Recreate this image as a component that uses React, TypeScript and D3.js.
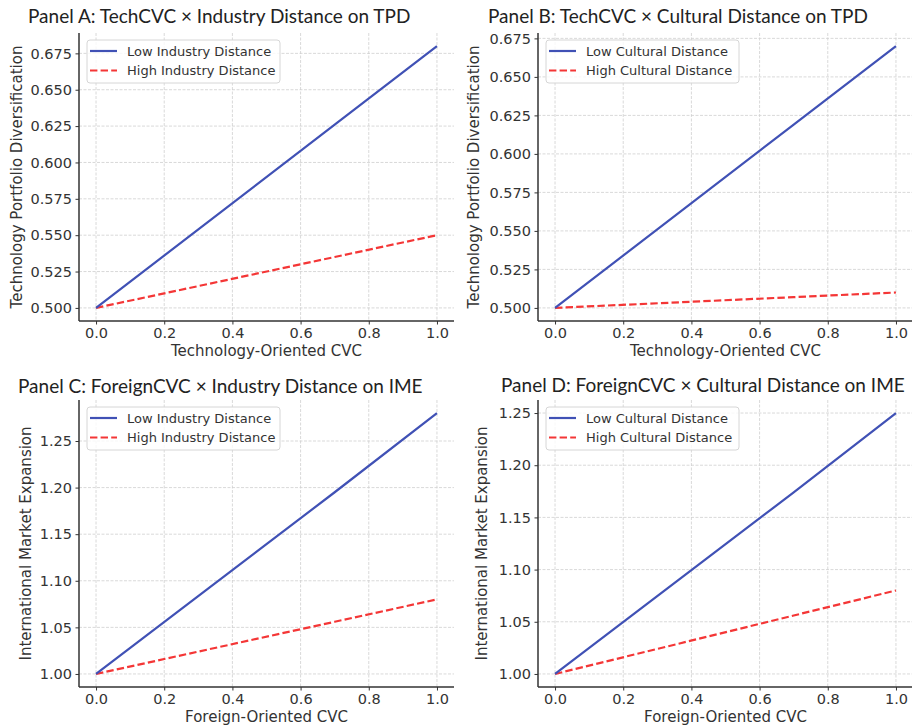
import React, { useRef, useEffect } from "react";
import * as d3 from "d3";

// ---- data ----
const cvcLevels = [0, 0.7, 1.0];
const xTicks = [0, 0.2, 0.4, 0.6, 0.8, 1.0];

const techIndustryLow = [0.5, 0.626, 0.68];
const techIndustryHigh = [0.5, 0.535, 0.55];
const techCulturalLow = [0.5, 0.619, 0.67];
const techCulturalHigh = [0.5, 0.507, 0.51];
const foreignIndustryLow = [1.0, 1.195, 1.28];
const foreignIndustryHigh = [1.0, 1.056, 1.08];
const foreignCulturalLow = [1.0, 1.174, 1.25];
const foreignCulturalHigh = [1.0, 1.056, 1.08];

const tpdTicks = [0.5, 0.525, 0.55, 0.575, 0.6, 0.625, 0.65, 0.675];
const imeTicks = [1.0, 1.05, 1.1, 1.15, 1.2, 1.25];

const panels = [
  {
    title: "Panel A: TechCVC × Industry Distance on TPD",
    xLabel: "Technology-Oriented CVC",
    yLabel: "Technology Portfolio Diversification",
    legend: ["Low Industry Distance", "High Industry Distance"],
    low: techIndustryLow,
    high: techIndustryHigh,
    yTicks: tpdTicks,
    fmt: ".3f",
    box: { left: 79, top: 33, bottom: 321 },
    titlePos: [28, 23],
    yLabelX: 22,
  },
  {
    title: "Panel B: TechCVC × Cultural Distance on TPD",
    xLabel: "Technology-Oriented CVC",
    yLabel: "Technology Portfolio Diversification",
    legend: ["Low Cultural Distance", "High Cultural Distance"],
    low: techCulturalLow,
    high: techCulturalHigh,
    yTicks: tpdTicks,
    fmt: ".3f",
    box: { left: 538, top: 33, bottom: 321 },
    titlePos: [488, 23],
    yLabelX: 479,
  },
  {
    title: "Panel C: ForeignCVC × Industry Distance on IME",
    xLabel: "Foreign-Oriented CVC",
    yLabel: "International Market Expansion",
    legend: ["Low Industry Distance", "High Industry Distance"],
    low: foreignIndustryLow,
    high: foreignIndustryHigh,
    yTicks: imeTicks,
    fmt: ".2f",
    box: { left: 79, top: 400, bottom: 687 },
    titlePos: [18, 393],
    yLabelX: 31,
  },
  {
    title: "Panel D: ForeignCVC × Cultural Distance on IME",
    xLabel: "Foreign-Oriented CVC",
    yLabel: "International Market Expansion",
    legend: ["Low Cultural Distance", "High Cultural Distance"],
    low: foreignCulturalLow,
    high: foreignCulturalHigh,
    yTicks: imeTicks,
    fmt: ".2f",
    box: { left: 538, top: 400, bottom: 687 },
    titlePos: [501, 392],
    yLabelX: 487,
  },
];

const plotWidth = 375;
const blue = "#4051b5";
const red = "#f43636";
const ink = "#333";
const font = "'DejaVu Sans', sans-serif";

export default function App() {
  const ref = useRef<SVGSVGElement>(null);

  useEffect(() => {
    const svg = d3.select(ref.current);
    svg.selectAll("*").remove();

    panels.forEach((p) => {
      const { left, top, bottom } = p.box;
      const right = left + plotWidth;

      // matplotlib-like 5% margins
      const xScale = d3.scaleLinear().domain([-0.05, 1.05]).range([left, right]);
      const [lo, hi] = d3.extent([...p.low, ...p.high]) as [number, number];
      const pad = (hi - lo) * 0.05;
      const yScale = d3.scaleLinear().domain([lo - pad, hi + pad]).range([bottom, top]);

      const g = svg.append("g");

      // grid
      g.selectAll(".gx")
        .data(xTicks)
        .join("line")
        .attr("x1", (d) => xScale(d))
        .attr("x2", (d) => xScale(d))
        .attr("y1", top)
        .attr("y2", bottom)
        .attr("stroke", "#cfcfcf")
        .attr("stroke-width", 0.8)
        .attr("stroke-dasharray", "3,1.5");
      g.selectAll(".gy")
        .data(p.yTicks)
        .join("line")
        .attr("x1", left)
        .attr("x2", right)
        .attr("y1", (d) => yScale(d))
        .attr("y2", (d) => yScale(d))
        .attr("stroke", "#cfcfcf")
        .attr("stroke-width", 0.8)
        .attr("stroke-dasharray", "3,1.5");

      // lines
      const line = d3
        .line<number>()
        .x((_, i) => xScale(cvcLevels[i]))
        .y((d) => yScale(d));

      g.append("path")
        .attr("d", line(p.high))
        .attr("fill", "none")
        .attr("stroke", red)
        .attr("stroke-width", 2.2)
        .attr("stroke-dasharray", "7.4,3.2");
      g.append("path")
        .attr("d", line(p.low))
        .attr("fill", "none")
        .attr("stroke", blue)
        .attr("stroke-width", 2.2);

      // axes
      const xAxis = g
        .append("g")
        .attr("transform", `translate(0,${bottom})`)
        .call(d3.axisBottom(xScale).tickValues(xTicks).tickFormat(d3.format(".1f")).tickSizeOuter(0).tickSize(3.5).tickPadding(3.5));
      const yAxis = g
        .append("g")
        .attr("transform", `translate(${left},0)`)
        .call(d3.axisLeft(yScale).tickValues(p.yTicks).tickFormat(d3.format(p.fmt)).tickSizeOuter(0).tickSize(3.5).tickPadding(3.5));

      [xAxis, yAxis].forEach((ax) => {
        ax.select(".domain").attr("stroke", ink).attr("stroke-width", 1.5);
        ax.selectAll(".tick line").attr("stroke", ink).attr("stroke-width", 1);
        ax.selectAll(".tick text")
          .attr("fill", ink)
          .style("font-family", font)
          .style("font-size", "14.5px");
      });
      // keep spine exactly over the plot area
      xAxis.select(".domain").attr("d", `M${left},0H${right}`);
      yAxis.select(".domain").attr("d", `M0,${top}V${bottom}`);

      // legend
      const lg = g.append("g").attr("transform", `translate(${left + 8},${top + 7})`);
      lg.append("rect")
        .attr("width", 193)
        .attr("height", 43)
        .attr("rx", 3)
        .attr("fill", "white")
        .attr("fill-opacity", 0.8)
        .attr("stroke", "#d6d6d6");
      p.legend.forEach((label, i) => {
        const yy = 11 + i * 19.5;
        lg.append("line")
          .attr("x1", 3)
          .attr("x2", 30)
          .attr("y1", yy)
          .attr("y2", yy)
          .attr("stroke", i === 0 ? blue : red)
          .attr("stroke-width", 2.2)
          .attr("stroke-dasharray", i === 0 ? null : "7.4,3.2");
        lg.append("text")
          .attr("x", 40)
          .attr("y", yy + 4.5)
          .text(label)
          .attr("fill", ink)
          .style("font-family", font)
          .style("font-size", "13px");
      });

      // labels
      g.append("text")
        .attr("x", (left + right) / 2)
        .attr("y", bottom + 35)
        .attr("text-anchor", "middle")
        .text(p.xLabel)
        .attr("fill", ink)
        .style("font-family", font)
        .style("font-size", "15px");

      g.append("text")
        .attr("transform", `translate(${p.yLabelX},${(top + bottom) / 2}) rotate(-90)`)
        .attr("text-anchor", "middle")
        .text(p.yLabel)
        .attr("fill", ink)
        .style("font-family", font)
        .style("font-size", "15px");

      g.append("text")
        .attr("x", p.titlePos[0])
        .attr("y", p.titlePos[1])
        .text(p.title)
        .attr("fill", "#222")
        .style("font-family", "Lato, sans-serif")
        .style("font-size", "19px");
    });
  }, []);

  return (
    <div style={{ position: "absolute", left: 0, top: 0 }}>
      <svg ref={ref} width={912} height={728} style={{ display: "block", background: "white" }} />
    </div>
  );
}
